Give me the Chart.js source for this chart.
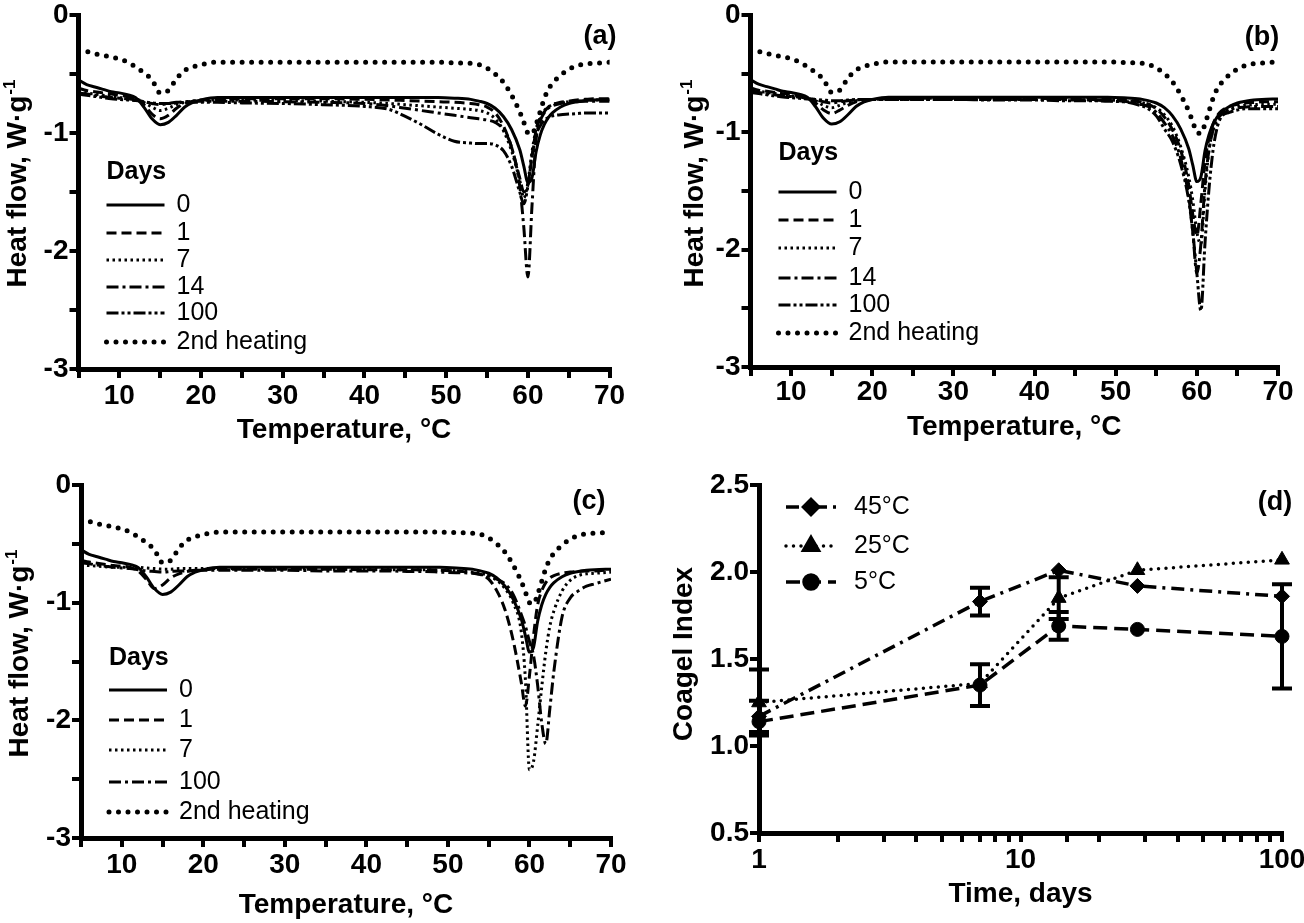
<!DOCTYPE html>
<html><head><meta charset="utf-8">
<script src="https://cdn.jsdelivr.net/npm/chart.js@4.4.1/dist/chart.umd.min.js"></script>
<style>
html,body{margin:0;padding:0;background:#fff;}
#wrap{position:relative;width:1304px;height:923px;overflow:hidden;}
canvas{position:absolute;left:0;top:0;}
</style></head><body>
<div id="wrap">
<canvas id="ca" width="1304" height="923"></canvas>
<canvas id="cb" width="1304" height="923"></canvas>
<canvas id="cc" width="1304" height="923"></canvas>
<canvas id="cd" width="1304" height="923"></canvas>
</div>
<script>
// ---------------- DATA ----------------
const temperature = [5,6,7,8,9,10,11,12,13,14,15,16,17,18,19,20,22,25,30,35,40,43,45,47,49,51,53,54,55,56,57,58,59,59.5,60,60.5,61,61.5,62,62.5,63,64,65,66,67,68,70];

// shared curves (control sample, day 0) and 2nd heating
const day0 = [-0.55,-0.59,-0.61,-0.63,-0.65,-0.66,-0.675,-0.70,-0.78,-0.88,-0.93,-0.91,-0.85,-0.78,-0.74,-0.72,-0.70,-0.70,-0.70,-0.70,-0.70,-0.70,-0.70,-0.70,-0.70,-0.705,-0.715,-0.73,-0.75,-0.79,-0.86,-0.97,-1.14,-1.28,-1.42,-1.38,-1.16,-1.02,-0.93,-0.87,-0.83,-0.78,-0.75,-0.735,-0.725,-0.72,-0.715];
const heat2nd = [-0.30,-0.31,-0.33,-0.34,-0.36,-0.37,-0.40,-0.44,-0.49,-0.55,-0.66,-0.64,-0.54,-0.47,-0.44,-0.42,-0.40,-0.40,-0.40,-0.40,-0.40,-0.40,-0.40,-0.40,-0.40,-0.405,-0.41,-0.42,-0.45,-0.50,-0.57,-0.68,-0.82,-0.91,-1.00,-1.01,-0.93,-0.82,-0.71,-0.63,-0.58,-0.51,-0.46,-0.43,-0.415,-0.41,-0.40];

// panel (a)
const a_day1 = [-0.62,-0.64,-0.65,-0.66,-0.67,-0.68,-0.69,-0.71,-0.76,-0.84,-0.88,-0.85,-0.79,-0.75,-0.73,-0.72,-0.715,-0.71,-0.71,-0.71,-0.715,-0.72,-0.725,-0.73,-0.735,-0.74,-0.75,-0.76,-0.78,-0.83,-0.94,-1.12,-1.38,-1.50,-1.44,-1.20,-0.98,-0.88,-0.82,-0.78,-0.76,-0.74,-0.73,-0.72,-0.715,-0.71,-0.71];
const a_day7 = [-0.64,-0.66,-0.67,-0.68,-0.69,-0.70,-0.705,-0.71,-0.74,-0.78,-0.81,-0.79,-0.76,-0.74,-0.73,-0.725,-0.72,-0.72,-0.725,-0.73,-0.74,-0.75,-0.76,-0.77,-0.78,-0.79,-0.80,-0.81,-0.83,-0.88,-0.98,-1.15,-1.40,-1.55,-1.42,-1.16,-0.97,-0.87,-0.81,-0.78,-0.76,-0.745,-0.735,-0.73,-0.725,-0.72,-0.72];
const a_day14 = [-0.66,-0.67,-0.68,-0.69,-0.70,-0.705,-0.71,-0.72,-0.735,-0.75,-0.76,-0.75,-0.74,-0.735,-0.73,-0.73,-0.73,-0.73,-0.735,-0.74,-0.75,-0.77,-0.79,-0.81,-0.83,-0.85,-0.87,-0.88,-0.89,-0.91,-0.97,-1.12,-1.45,-1.80,-2.22,-1.62,-1.06,-0.90,-0.83,-0.79,-0.77,-0.75,-0.74,-0.735,-0.73,-0.73,-0.73];
const a_day100 = [-0.67,-0.68,-0.69,-0.70,-0.71,-0.715,-0.72,-0.725,-0.735,-0.745,-0.75,-0.75,-0.745,-0.74,-0.74,-0.74,-0.74,-0.745,-0.75,-0.76,-0.775,-0.80,-0.86,-0.93,-1.01,-1.07,-1.085,-1.09,-1.09,-1.10,-1.15,-1.28,-1.50,-1.60,-1.45,-1.20,-1.02,-0.94,-0.89,-0.87,-0.855,-0.845,-0.84,-0.835,-0.83,-0.83,-0.83];

// panel (b)
const b_day1 = [-0.62,-0.64,-0.65,-0.66,-0.67,-0.68,-0.69,-0.71,-0.75,-0.81,-0.84,-0.81,-0.77,-0.74,-0.73,-0.72,-0.715,-0.71,-0.71,-0.71,-0.71,-0.715,-0.715,-0.72,-0.72,-0.725,-0.74,-0.76,-0.80,-0.87,-0.98,-1.15,-1.45,-1.70,-1.88,-1.60,-1.25,-1.05,-0.93,-0.86,-0.82,-0.78,-0.76,-0.75,-0.745,-0.74,-0.74];
const b_day7 = [-0.63,-0.65,-0.66,-0.67,-0.68,-0.69,-0.70,-0.71,-0.73,-0.77,-0.79,-0.77,-0.745,-0.73,-0.72,-0.72,-0.715,-0.715,-0.715,-0.715,-0.72,-0.72,-0.72,-0.725,-0.725,-0.73,-0.745,-0.76,-0.79,-0.85,-0.95,-1.12,-1.38,-1.58,-1.85,-1.95,-1.50,-1.15,-0.98,-0.90,-0.85,-0.80,-0.78,-0.77,-0.765,-0.76,-0.76];
const b_day14 = [-0.64,-0.66,-0.67,-0.68,-0.69,-0.695,-0.70,-0.71,-0.72,-0.74,-0.75,-0.74,-0.73,-0.725,-0.72,-0.72,-0.72,-0.72,-0.72,-0.72,-0.72,-0.72,-0.725,-0.725,-0.73,-0.735,-0.76,-0.78,-0.83,-0.92,-1.03,-1.22,-1.55,-1.85,-2.20,-1.95,-1.45,-1.15,-0.98,-0.89,-0.85,-0.81,-0.79,-0.785,-0.78,-0.78,-0.78];
const b_day100 = [-0.66,-0.67,-0.68,-0.69,-0.70,-0.705,-0.71,-0.715,-0.72,-0.725,-0.73,-0.73,-0.725,-0.72,-0.72,-0.72,-0.72,-0.72,-0.72,-0.725,-0.725,-0.73,-0.73,-0.73,-0.735,-0.74,-0.77,-0.80,-0.86,-0.97,-1.08,-1.27,-1.58,-1.85,-2.20,-2.52,-1.95,-1.48,-1.15,-0.96,-0.87,-0.83,-0.81,-0.80,-0.80,-0.80,-0.80];

// panel (c)
const c_day1 = [-0.64,-0.655,-0.665,-0.675,-0.685,-0.69,-0.70,-0.73,-0.80,-0.88,-0.85,-0.79,-0.755,-0.735,-0.725,-0.72,-0.715,-0.715,-0.715,-0.715,-0.72,-0.72,-0.72,-0.72,-0.725,-0.73,-0.745,-0.76,-0.80,-0.90,-1.06,-1.32,-1.68,-1.88,-1.62,-1.28,-1.02,-0.90,-0.83,-0.79,-0.77,-0.75,-0.74,-0.735,-0.73,-0.73,-0.72];
const c_day7 = [-0.68,-0.685,-0.69,-0.695,-0.70,-0.70,-0.70,-0.70,-0.705,-0.71,-0.715,-0.715,-0.71,-0.71,-0.71,-0.71,-0.71,-0.71,-0.71,-0.715,-0.715,-0.72,-0.72,-0.72,-0.725,-0.73,-0.74,-0.75,-0.77,-0.81,-0.88,-1.00,-1.25,-1.65,-2.42,-2.35,-2.05,-1.72,-1.42,-1.20,-1.07,-0.90,-0.81,-0.77,-0.755,-0.75,-0.74];
const c_day100 = [-0.66,-0.67,-0.68,-0.69,-0.70,-0.705,-0.71,-0.72,-0.73,-0.735,-0.74,-0.735,-0.73,-0.73,-0.725,-0.725,-0.725,-0.725,-0.725,-0.73,-0.73,-0.73,-0.735,-0.735,-0.74,-0.745,-0.75,-0.76,-0.77,-0.80,-0.84,-0.93,-1.10,-1.20,-1.33,-1.45,-1.70,-2.02,-2.20,-1.90,-1.58,-1.12,-0.96,-0.90,-0.86,-0.84,-0.80];

// panel (d)
const timeDays = [1, 7, 14, 28, 100];
const coagel45 = [1.17, 1.83, 2.01, 1.92, 1.86];
const coagel45Err = [0.09, 0.08, 0, 0, 0];
const coagel25 = [1.25, 1.36, 1.85, 2.01, 2.07];
const coagel25Err = [0.19, 0, 0.12, 0, 0];
const coagel5 = [1.14, 1.35, 1.69, 1.67, 1.63];
const coagel5Err = [0, 0.12, 0.08, 0, 0.30];

// tick labels
const tempTickLabels = [10, 20, 30, 40, 50, 60, 70];
const heatTickLabels = [0, -1, -2, -3];
const timeTickLabels = [1, 10, 100];

// ---------------- STYLE / HELPERS ----------------
const FONT = "'Liberation Sans', Arial, Helvetica, sans-serif";
Chart.defaults.font.family = FONT;
Chart.defaults.color = '#000';

const STY = {
  d0:   {dash: [], w: 3, cap: 'butt'},
  d1:   {dash: [10, 5], w: 3, cap: 'butt'},
  d7:   {dash: [2.5, 3.5], w: 3, cap: 'butt'},
  d14:  {dash: [12, 4, 3, 4], w: 3, cap: 'butt'},
  d100: {dash: [12, 3, 3, 3, 3, 3], w: 3, cap: 'butt'},
  h2:   {dash: [0, 9.5], w: 5, cap: 'round'}
};

function zeroPad(s){ s.paddingLeft = 0; s.paddingRight = 0; s.paddingTop = 0; s.paddingBottom = 0; }

const legendPlugin = {
  id: 'customLegend',
  afterDraw(chart, args, o) {
    if (!o || !o.rows) return;
    const ctx = chart.ctx;
    ctx.save();
    ctx.fillStyle = '#000'; ctx.strokeStyle = '#000';
    ctx.textBaseline = 'middle'; ctx.textAlign = 'left';
    if (o.title) { ctx.font = 'bold 25px ' + FONT; ctx.fillText(o.title, o.x0, o.titleY); }
    chart.data.datasets.forEach((ds, i) => {
      const y = o.rows[i];
      ctx.beginPath();
      ctx.setLineDash(ds.borderDash || []);
      ctx.lineCap = ds.borderCapStyle || 'butt';
      ctx.lineWidth = ds.borderWidth;
      ctx.moveTo(o.x0, y); ctx.lineTo(o.x1, y); ctx.stroke();
      ctx.setLineDash([]);
      if (o.markers) {
        Chart.helpers.drawPoint(ctx, {pointStyle: ds.pointStyle, radius: ds.pointRadius, rotation: 0, borderWidth: 1}, (o.x0 + o.x1) / 2, y);
      }
      ctx.font = '25px ' + FONT;
      ctx.fillText(ds.label, o.tx, y);
    });
    ctx.restore();
  }
};

const textPlugin = {
  id: 'panelText',
  afterDraw(chart, args, o) {
    if (!o) return;
    const ctx = chart.ctx;
    ctx.save();
    ctx.fillStyle = '#000';
    // panel tag
    ctx.font = 'bold 27px ' + FONT; ctx.textAlign = 'center'; ctx.textBaseline = 'middle';
    ctx.fillText(o.tag, o.tagX, o.tagY);
    // x title
    ctx.font = 'bold 28px ' + FONT; ctx.textAlign = 'center'; ctx.textBaseline = 'alphabetic';
    ctx.fillText(o.xTitle, o.xTitleX, o.xTitleY);
    // y title (rotated) with optional superscript
    ctx.translate(o.yTitleX, o.yTitleY);
    ctx.rotate(-Math.PI / 2);
    ctx.font = 'bold 28px ' + FONT;
    const w1 = ctx.measureText(o.yTitle).width;
    let w2 = 0;
    if (o.ySup) { ctx.font = 'bold 17px ' + FONT; w2 = ctx.measureText(o.ySup).width; }
    const x0 = -(w1 + w2) / 2;
    ctx.textAlign = 'left';
    ctx.font = 'bold 28px ' + FONT;
    ctx.fillText(o.yTitle, x0, 0);
    if (o.ySup) { ctx.font = 'bold 17px ' + FONT; ctx.fillText(o.ySup, x0 + w1 + 1, -11); }
    ctx.restore();
  }
};

const errorBarPlugin = {
  id: 'errorBars',
  afterDatasetsDraw(chart) {
    const xs = chart.scales.x, ys = chart.scales.y, ctx = chart.ctx;
    ctx.save();
    ctx.strokeStyle = '#000'; ctx.lineWidth = 4; ctx.setLineDash([]); ctx.lineCap = 'butt';
    chart.data.datasets.forEach(ds => {
      if (!ds.errors) return;
      ds.errors.forEach((e, i) => {
        if (!e) return;
        const x = xs.getPixelForValue(timeDays[i]);
        const v = ds.data[i].y;
        const y1 = ys.getPixelForValue(v + e), y2 = ys.getPixelForValue(v - e);
        ctx.beginPath();
        ctx.moveTo(x, y1); ctx.lineTo(x, y2);
        ctx.moveTo(x - 10, y1); ctx.lineTo(x + 10, y1);
        ctx.moveTo(x - 10, y2); ctx.lineTo(x + 10, y2);
        ctx.stroke();
      });
    });
    ctx.restore();
  }
};

function tickFont(){ return {family: FONT, size: 28, weight: 'bold', lineHeight: 1}; }
function gridOpts(){ return {display: true, drawOnChartArea: false, drawTicks: true, tickLength: 9, tickWidth: 4, tickColor: '#000', color: '#000', lineWidth: 4}; }
function borderOpts(){ return {display: true, color: '#000', width: 5}; }

function dscChart(id, g, series, legendRows, tag) {
  const datasets = series.map(s => ({
    label: s.label,
    data: temperature.map((t, i) => ({x: t, y: s.values[i]})),
    borderColor: '#000', borderWidth: s.st.w, borderDash: s.st.dash, borderCapStyle: s.st.cap,
    borderJoinStyle: 'round', pointRadius: 0, fill: false, cubicInterpolationMode: 'monotone'
  }));
  return new Chart(document.getElementById(id), {
    type: 'line',
    data: {datasets},
    options: {
      responsive: false, animation: false, events: [],
      layout: {padding: {left: 0, top: g.T, right: 1304 - g.R, bottom: 923 - g.B - 50}},
      plugins: {
        legend: {display: false}, tooltip: {enabled: false},
        customLegend: {title: 'Days', titleY: legendRows.titleY, rows: legendRows.rows, x0: g.L + 28, x1: g.L + 86, tx: g.L + 98},
        panelText: {tag: tag.text, tagX: tag.x, tagY: tag.y, xTitle: 'Temperature, °C', xTitleX: (g.L + g.R) / 2, xTitleY: g.xTitleY,
                    yTitle: 'Heat flow, W·g', ySup: '-1', yTitleX: g.yTitleX, yTitleY: g.yTitleY}
      },
      scales: {
        x: {type: 'linear', min: 5, max: 70,
            ticks: {stepSize: 5, autoSkip: false, maxRotation: 0, padding: g.xPad, color: '#000', font: tickFont(),
                    callback: v => tempTickLabels.includes(v) ? String(v) : ''},
            grid: gridOpts(), border: borderOpts(),
            afterFit: s => { s.height = 50; zeroPad(s); }},
        y: {type: 'linear', min: -3, max: 0,
            ticks: {stepSize: 0.5, autoSkip: false, padding: 1, color: '#000', font: tickFont(),
                    callback: v => heatTickLabels.includes(v) ? String(v) : ''},
            grid: gridOpts(), border: borderOpts(),
            afterFit: s => { s.width = g.L; zeroPad(s); }}
      }
    },
    plugins: [legendPlugin, textPlugin]
  });
}

// ---------------- PANELS ----------------
dscChart('ca', {L: 78.5, R: 609.6, T: 15, B: 369, xPad: 4, xTitleY: 438, yTitleX: 26, yTitleY: 184},
  [{label: '0', values: day0, st: STY.d0},
   {label: '1', values: a_day1, st: STY.d1},
   {label: '7', values: a_day7, st: STY.d7},
   {label: '14', values: a_day14, st: STY.d14},
   {label: '100', values: a_day100, st: STY.d100},
   {label: '2nd heating', values: heat2nd, st: STY.h2}],
  {titleY: 172, rows: [205, 233, 260, 287, 313, 342]},
  {text: '(a)', x: 600, y: 37});

dscChart('cb', {L: 750.5, R: 1278, T: 15, B: 367, xPad: 2, xTitleY: 435, yTitleX: 703, yTitleY: 184},
  [{label: '0', values: day0, st: STY.d0},
   {label: '1', values: b_day1, st: STY.d1},
   {label: '7', values: b_day7, st: STY.d7},
   {label: '14', values: b_day14, st: STY.d14},
   {label: '100', values: b_day100, st: STY.d100},
   {label: '2nd heating', values: heat2nd, st: STY.h2}],
  {titleY: 153, rows: [192, 220, 248, 278, 305, 333]},
  {text: '(b)', x: 1262, y: 38});

dscChart('cc', {L: 81, R: 611, T: 485, B: 838, xPad: 4, xTitleY: 913, yTitleX: 28, yTitleY: 654},
  [{label: '0', values: day0, st: STY.d0},
   {label: '1', values: c_day1, st: STY.d1},
   {label: '7', values: c_day7, st: STY.d7},
   {label: '100', values: c_day100, st: STY.d14},
   {label: '2nd heating', values: heat2nd, st: STY.h2}],
  {titleY: 658, rows: [690, 720, 750, 782, 812]},
  {text: '(c)', x: 589, y: 502});

// panel (d)
(function(){
  const g = {L: 759, R: 1282, T: 485, B: 833};
  const mk = (label, vals, errs, dash, ps, r) => ({
    label, data: timeDays.map((d, i) => ({x: d, y: vals[i]})), errors: errs,
    borderColor: '#000', borderWidth: 3.5, borderDash: dash, borderCapStyle: dash.length && dash[0] === 0 ? 'round' : 'butt',
    pointStyle: ps, pointRadius: r, pointBackgroundColor: '#000', pointBorderColor: '#000', pointBorderWidth: 1,
    fill: false, tension: 0, clip: false
  });
  new Chart(document.getElementById('cd'), {
    type: 'line',
    data: {datasets: [
      mk('45°C', coagel45, coagel45Err, [13, 6, 3, 6], 'rectRot', 7.5),
      mk('25°C', coagel25, coagel25Err, [0, 7.5], 'triangle', 8.5),
      mk('5°C', coagel5, coagel5Err, [14, 7], 'circle', 7)
    ]},
    options: {
      responsive: false, animation: false, events: [],
      layout: {padding: {left: 0, top: g.T, right: 1304 - g.R, bottom: 923 - g.B - 50}},
      plugins: {
        legend: {display: false}, tooltip: {enabled: false},
        customLegend: {rows: [507, 546, 582], x0: 786, x1: 836, tx: 854, markers: true},
        panelText: {tag: '(d)', tagX: 1275, tagY: 503, xTitle: 'Time, days', xTitleX: (g.L + g.R) / 2, xTitleY: 902,
                    yTitle: 'Coagel Index', ySup: '', yTitleX: 692, yTitleY: 654}
      },
      scales: {
        x: {type: 'logarithmic', min: 1, max: 100,
            ticks: {autoSkip: false, maxRotation: 0, padding: 4, color: '#000', font: tickFont(),
                    callback: v => timeTickLabels.includes(v) ? String(v) : ''},
            grid: gridOpts(), border: borderOpts(),
            afterFit: s => { s.height = 50; zeroPad(s); }},
        y: {type: 'linear', min: 0.5, max: 2.5,
            ticks: {stepSize: 0.5, autoSkip: false, padding: 1, color: '#000', font: tickFont(),
                    callback: v => v.toFixed(1)},
            grid: gridOpts(), border: borderOpts(),
            afterFit: s => { s.width = g.L; zeroPad(s); }}
      }
    },
    plugins: [legendPlugin, textPlugin, errorBarPlugin]
  });
})();
</script>
</body></html>
